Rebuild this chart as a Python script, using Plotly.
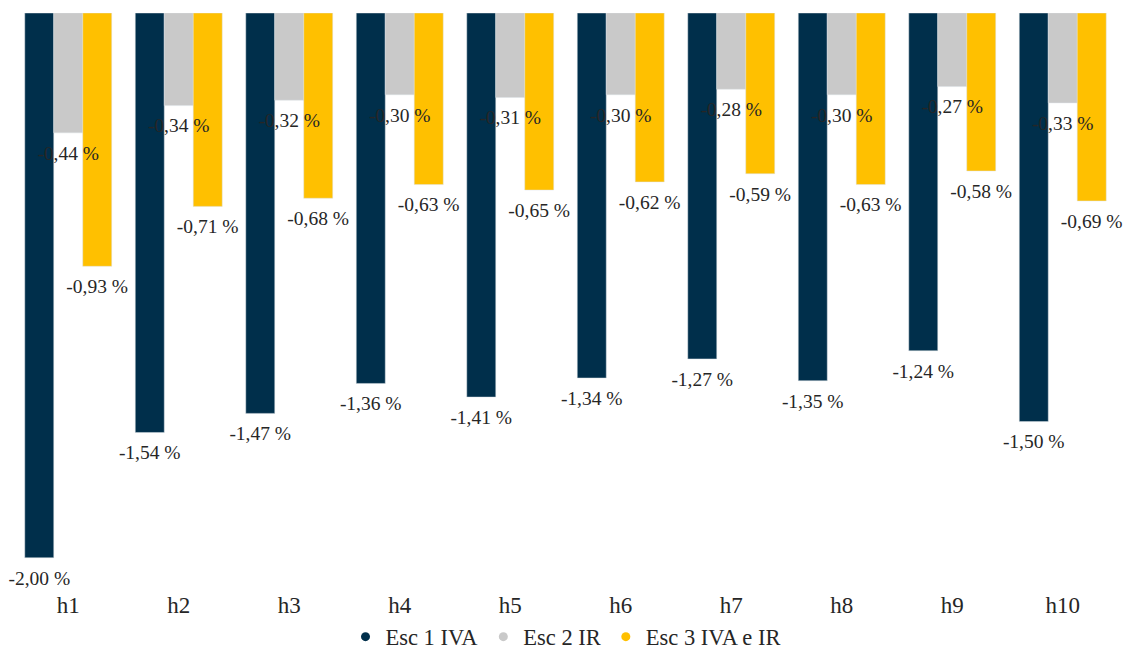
import plotly.graph_objects as go

categories = ["h1", "h2", "h3", "h4", "h5", "h6", "h7", "h8", "h9", "h10"]
series_names = ["Esc 1 IVA", "Esc 2 IR", "Esc 3 IVA e IR"]
esc1 = [-2.00, -1.54, -1.47, -1.36, -1.41, -1.34, -1.27, -1.35, -1.24, -1.50]
esc2 = [-0.44, -0.34, -0.32, -0.30, -0.31, -0.30, -0.28, -0.30, -0.27, -0.33]
esc3 = [-0.93, -0.71, -0.68, -0.63, -0.65, -0.62, -0.59, -0.63, -0.58, -0.69]
colors = ["#002F4B", "#C9C9C9", "#FFC000"]

def fmt(v):
    return f"{v:.2f}".replace(".", ",") + " %"

fig = go.Figure()
all_vals = [esc1, esc2, esc3]
for i, (name, vals, col) in enumerate(zip(series_names, all_vals, colors)):
    fig.add_trace(go.Bar(
        x=categories, y=vals, name=name, showlegend=False,
        offsetgroup=str(i), alignmentgroup="a",
        marker=dict(color=col, line=dict(color="rgba(220,225,230,0.6)", width=0.8)),
    ))
for i, (name, vals, col) in enumerate(zip(series_names, all_vals, colors)):
    fig.add_trace(go.Scatter(
        x=categories, y=vals, mode="markers+text", showlegend=False,
        offsetgroup=str(i), alignmentgroup="a",
        marker=dict(size=18, color="rgba(0,0,0,0)"),
        text=[fmt(v) for v in vals], textposition="bottom center",
        cliponaxis=False, hoverinfo="skip",
        textfont=dict(family="Liberation Serif", size=19.5, color="#262626"),
    ))
for name, col in zip(series_names, colors):
    fig.add_trace(go.Scatter(
        x=[None], y=[None], mode="markers", name=name,
        marker=dict(symbol="circle", size=9, color=col),
    ))

fig.update_layout(
    width=1127, height=652,
    margin=dict(l=13, r=9, t=13, b=67, autoexpand=False),
    barmode="group", bargap=0.213, bargroupgap=0,
    scattermode="group", scattergap=0.213,
    plot_bgcolor="white", paper_bgcolor="white",
    font=dict(family="Liberation Serif", color="#262626"),
    showlegend=True,
    legend=dict(orientation="h", x=0.5, xanchor="center", yref="container",
                y=0.023, yanchor="middle",
                font=dict(size=22.5, color="#262626"), itemwidth=30, tracegroupgap=0),
)
fig.update_xaxes(showgrid=False, showline=False, ticks="", ticklabelstandoff=4,
                 tickfont=dict(size=23, color="#262626"))
fig.update_yaxes(range=[-2.1, 0], visible=False, showgrid=False, zeroline=False)

fig.write_html("out.html")
